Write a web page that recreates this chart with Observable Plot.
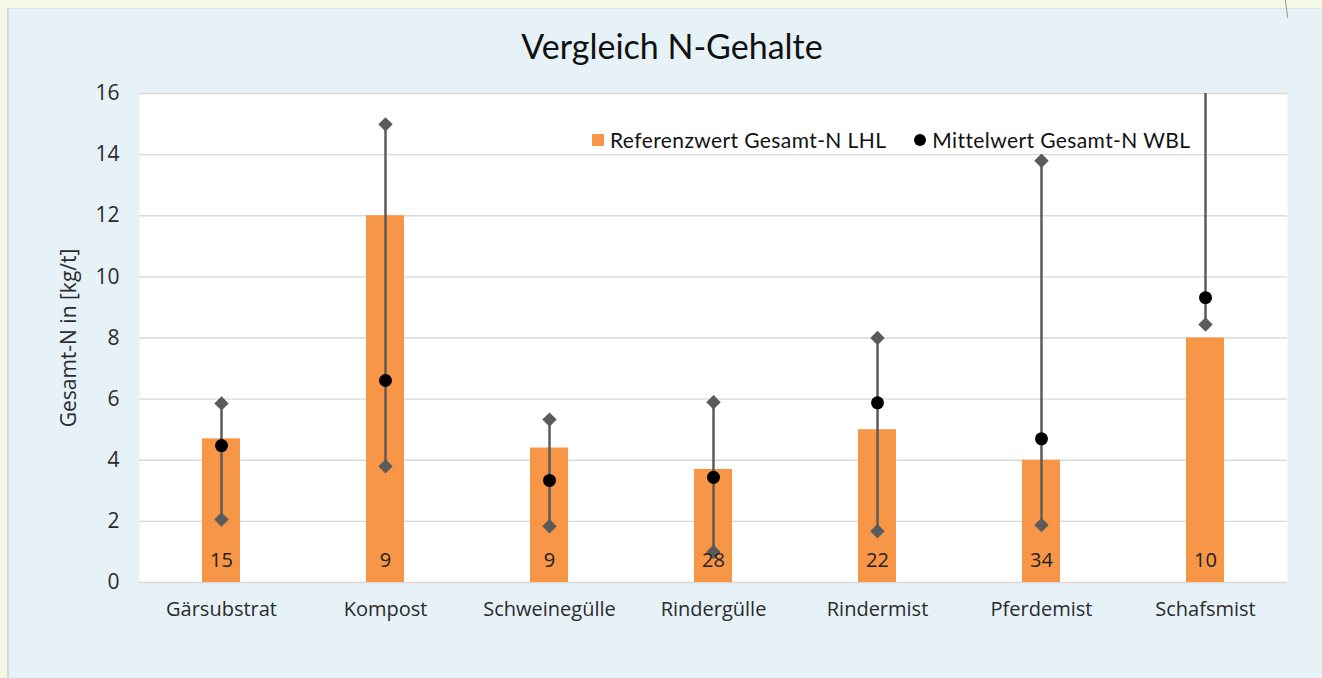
<!DOCTYPE html>
<html>
<head>
<meta charset="utf-8">
<script src="https://cdn.jsdelivr.net/npm/d3@7"></script>
<script src="https://cdn.jsdelivr.net/npm/@observablehq/plot@0.6"></script>
<style>
  body { margin: 0; }
  #page { position: relative; width: 1322px; height: 678px; background: #F4F8E6; overflow: hidden; font-family: "Open Sans", sans-serif; }
  #panel { position: absolute; left: 7px; top: 8px; right: 0; bottom: 0; background: #E6F1F8; border-left: 2px solid #D3D8DA; border-top: 1px solid #DDE3E5; }
  #corner { position: absolute; left: 1286px; top: 0; width: 1px; height: 18px; background: #9a9a9a; transform: rotate(-8deg); }
  #title { position: absolute; left: 0; width: 1344px; top: 25px; text-align: center; font-family: Lato, sans-serif; font-size: 34px; color: #111; }
  #chart { position: absolute; left: 0; top: 70px; }
  #legend { position: absolute; left: 592px; top: 127px; display: flex; align-items: center; font-family: Lato, sans-serif; font-size: 21px; color: #111; letter-spacing: 0.4px; }
  .sw { display: inline-block; width: 12px; height: 12px; background: #F79646; margin-right: 6px; }
  .dt { display: inline-block; width: 12px; height: 12px; border-radius: 50%; background: #000; margin-left: 28px; margin-right: 6px; }
</style>
</head>
<body>
<div id="page">
  <div id="panel"></div>
  <div id="corner"></div>
  <div id="title">Vergleich N-Gehalte</div>
  <div id="chart"></div>
  <div id="legend"><span class="sw"></span><span>Referenzwert Gesamt-N LHL</span><span class="dt"></span><span>Mittelwert Gesamt-N WBL</span></div>
</div>
<script>
const categories = ["Gärsubstrat", "Kompost", "Schweinegülle", "Rindergülle", "Rindermist", "Pferdemist", "Schafsmist"];
const referenceValues = [4.7, 12, 4.4, 3.7, 5, 4, 8];
const meanValues = [4.48, 6.61, 3.34, 3.44, 5.88, 4.7, 9.32];
const minValues = [2.06, 3.8, 1.84, 1.0, 1.68, 1.88, 8.44];
const maxValues = [5.86, 14.99, 5.33, 5.9, 8.0, 13.8, 19.5];
const counts = [15, 9, 9, 28, 22, 34, 10];
const yTicks = [0, 2, 4, 6, 8, 10, 12, 14, 16];

const data = categories.map((c, i) => ({
  cat: c, ref: referenceValues[i], mean: meanValues[i], min: minValues[i], max: maxValues[i], n: counts[i]
}));

const chart = Plot.plot({
  width: 1322,
  height: 608,
  marginLeft: 139,
  marginRight: 35,
  marginTop: 23,
  marginBottom: 96,
  style: { background: "transparent", fontFamily: "'Open Sans', sans-serif", color: "#2b2b2b" },
  x: { type: "band", domain: categories, paddingInner: 0.77, paddingOuter: 0.385 },
  y: { domain: [0, 16] },
  marks: [
    Plot.frame({ fill: "white", stroke: "none" }),
    Plot.gridY(yTicks, { stroke: "#D9D9D9", strokeOpacity: 1, strokeWidth: 1.3 }),
    Plot.barY(data, { x: "cat", y: "ref", fill: "#F79646" }),
    Plot.ruleX(data, { x: "cat", y1: "min", y2: "max", stroke: "#5B5B5B", strokeWidth: 2.5, clip: true }),
    Plot.dot(data, { x: "cat", y: "min", symbol: "diamond2", r: 6.5, fill: "#5B5B5B", stroke: "none", clip: true }),
    Plot.dot(data, { x: "cat", y: "max", symbol: "diamond2", r: 6.5, fill: "#5B5B5B", stroke: "none", clip: true }),
    Plot.dot(data, { x: "cat", y: "mean", r: 6.5, fill: "#000", stroke: "none" }),
    Plot.text(data, { x: "cat", y: () => 0, text: "n", dy: -22, fontSize: 20, fill: "#222" }),
    Plot.axisY({ ticks: yTicks, tickSize: 0, tickPadding: 20, fontSize: 21, label: "Gesamt-N in [kg/t]", labelAnchor: "center", labelArrow: "none", labelOffset: 78 }),
    Plot.axisX({ tickSize: 0, tickPadding: 19, fontSize: 20, label: null })
  ]
});
document.getElementById("chart").appendChild(chart);
</script>
</body>
</html>
